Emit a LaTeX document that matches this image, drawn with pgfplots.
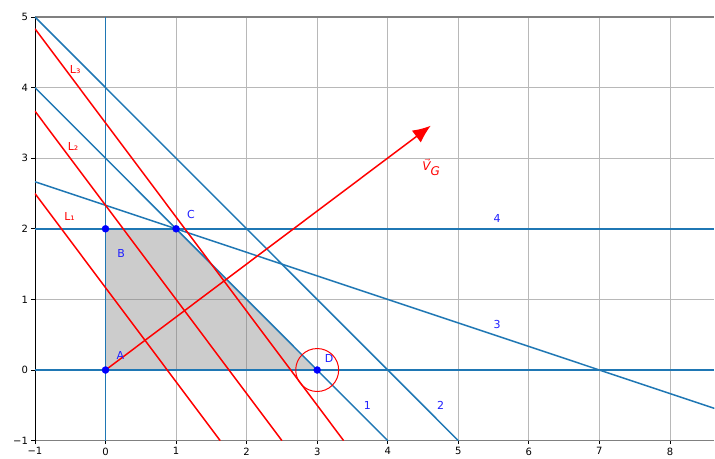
\documentclass[border=0pt]{standalone}
\usepackage{pgfplots}
\pgfplotsset{compat=1.18}
\usepackage{fontspec}
\setmainfont{DejaVu Sans}
\usetikzlibrary{arrows.meta}
\definecolor{mblue}{HTML}{1F77B4}
\definecolor{lblue}{HTML}{2020FF}
\definecolor{gridgray}{HTML}{B8B8B8}
\begin{document}
\begin{tikzpicture}
\begin{axis}[
  scale only axis, width=680pt, height=424pt,
  xmin=-1, xmax=8.63, ymin=-1, ymax=5,
  axis x line*=box, axis y line*=left,
  separate axis lines,
  every outer x axis line/.append style={gray, line width=1.2pt},
  every outer y axis line/.append style={black, line width=0.8pt},
  tick pos=left, tick align=outside,
  major tick length=3.5pt,
  tick style={black, line width=0.8pt},
  xtick={-1,0,...,8}, xticklabels={−1,0,1,2,3,4,5,6,7,8},
  ytick={-1,0,...,5}, yticklabels={−1,0,1,2,3,4,5},
  ticklabel style={font=\fontsize{10}{12}\selectfont},
  grid=major, grid style={gridgray, line width=0.8pt},
  clip=true,
]
% feasible region
\addplot[fill=gray, fill opacity=0.4, draw=none] coordinates {(0,0) (0,2) (1,2) (3,0)} -- cycle;
% constraint lines
\addplot[mblue, line width=1.5pt] coordinates {(-1,4) (4,-1)};
\addplot[mblue, line width=1.5pt] coordinates {(-1,5) (5,-1)};
\addplot[mblue, line width=1.5pt] coordinates {(-1,2.6667) (8.63,-0.5433)};
\addplot[mblue, line width=1.5pt] coordinates {(-1,2) (8.63,2)};
\addplot[mblue, line width=1.5pt] coordinates {(-1,0) (8.63,0)};
\addplot[mblue, line width=1.5pt] coordinates {(0,-1) (0,5)};
% objective lines
\addplot[red, line width=1.5pt] coordinates {(-1,2.5) (1.625,-1)};
\addplot[red, line width=1.5pt] coordinates {(-1,3.6667) (2.5,-1)};
\addplot[red, line width=1.5pt] coordinates {(-1,4.8333) (3.375,-1)};
% gradient vector
\addplot[red, line width=1.5pt, -{Latex[length=18pt,width=15pt]}] coordinates {(0,0) (4.61,3.46)};
% circle around D
\addplot[red, line width=1pt, only marks, mark=o, mark size=21.5pt, mark options={draw=red}] coordinates {(3,0)};
% vertices
\addplot[only marks, mark=*, mark size=3.5pt, mark options={draw=blue, fill=blue}] coordinates {(0,0) (0,2) (1,2) (3,0)};
% labels
\node[lblue, font=\fontsize{11}{13}\selectfont] at (axis cs:3.71,-0.5) {1};
\node[lblue, font=\fontsize{11}{13}\selectfont] at (axis cs:4.75,-0.5) {2};
\node[lblue, font=\fontsize{11}{13}\selectfont] at (axis cs:5.55,0.65) {3};
\node[lblue, font=\fontsize{11}{13}\selectfont] at (axis cs:5.55,2.15) {4};
\node[lblue, font=\fontsize{11}{13}\selectfont] at (axis cs:0.21,0.2) {A};
\node[lblue, font=\fontsize{11}{13}\selectfont] at (axis cs:0.22,1.65) {B};
\node[lblue, font=\fontsize{11}{13}\selectfont] at (axis cs:1.21,2.2) {C};
\node[lblue, font=\fontsize{11}{13}\selectfont] at (axis cs:3.17,0.17) {D};
\node[red, font=\fontsize{11}{13}\selectfont] at (axis cs:-0.51,2.17) {L₁};
\node[red, font=\fontsize{11}{13}\selectfont] at (axis cs:-0.46,3.16) {L₂};
\node[red, font=\fontsize{11}{13}\selectfont] at (axis cs:-0.43,4.25) {L₃};
\node[red, font=\fontsize{12}{14}\selectfont] at (axis cs:4.62,2.87) {$\vec{\textit{V}}_{\textit{G}}$};
\end{axis}
\path ([yshift=17pt]current axis.north west);
\path ([xshift=-35pt]current axis.south west);
\end{tikzpicture}
\end{document}
